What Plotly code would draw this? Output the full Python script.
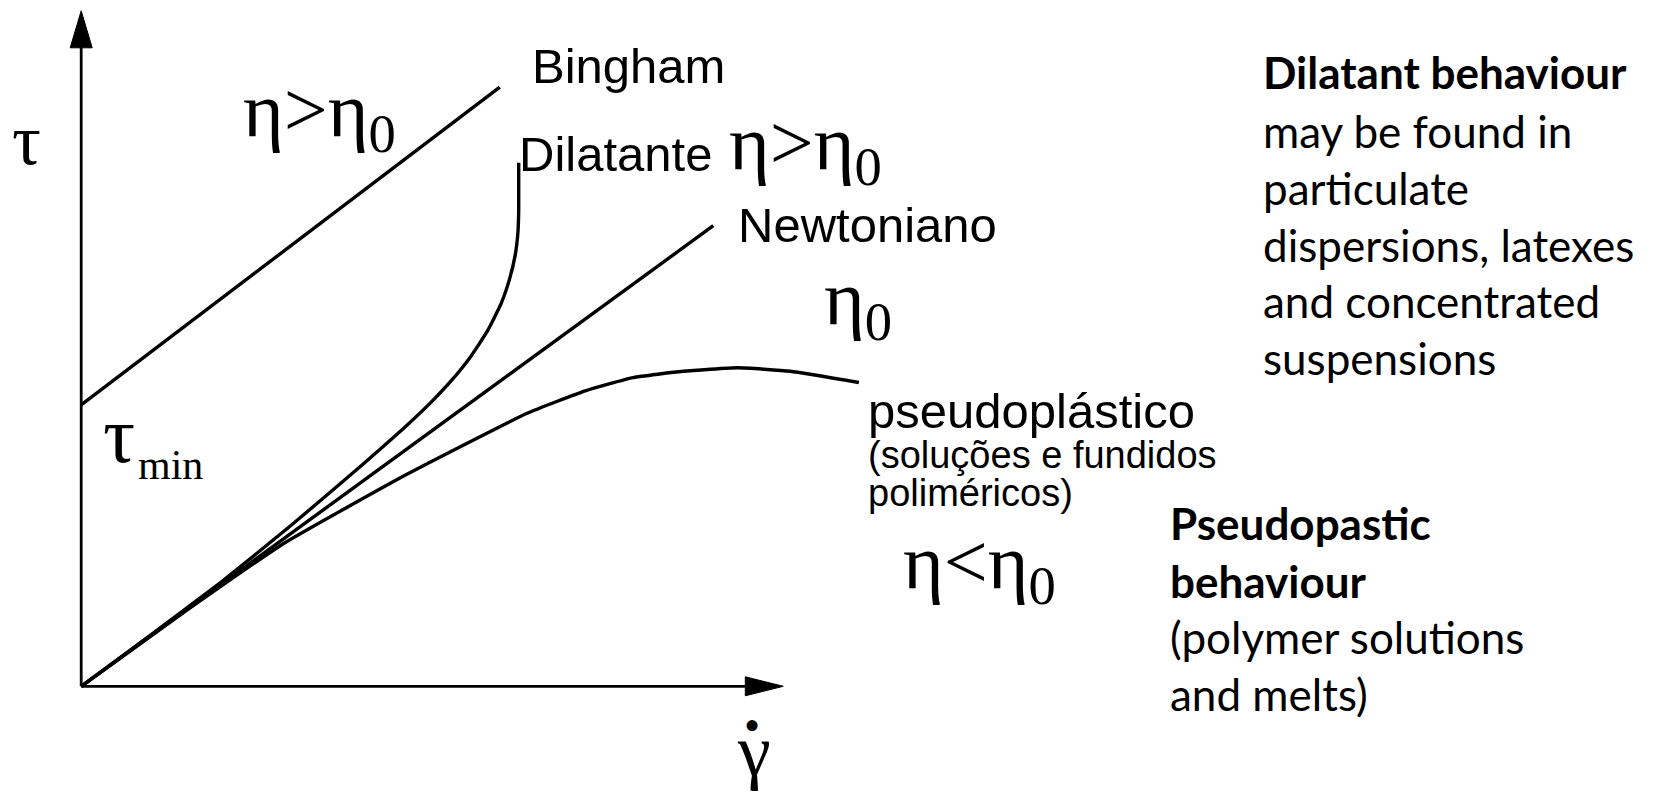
import plotly.graph_objects as go

W, H = 1653, 792

# ---------------- data (arbitrary units: shear rate vs shear stress) ----------------
bingham_rate = [0.0, 5.98]
bingham_stress = [4.02, 8.56]

newton_rate = [0.0, 9.03]
newton_stress = [0.0, 6.58]

dilatant_rate = [0.0, 1.0, 2.0, 3.0, 4.0, 4.6, 5.0, 5.3, 5.55, 5.8, 6.0, 6.12, 6.2, 6.24, 6.25, 6.25]
dilatant_stress = [0.0, 0.74, 1.49, 2.30, 3.15, 3.68, 4.06, 4.38, 4.69, 5.07, 5.47, 5.82, 6.16, 6.50, 6.80, 7.48]

pseudo_rate = [0.0, 1.5, 2.91, 4.6, 6.37, 7.2, 7.88, 8.6, 9.38, 10.13, 11.11]
pseudo_stress = [0.0, 1.08, 2.05, 3.0, 3.90, 4.22, 4.41, 4.50, 4.55, 4.50, 4.34]

axis_rate_max = 10.03
axis_stress_max = 9.65

# ---------------- layout helpers ----------------
PX = 70.0              # pixels per data unit
X0, Y0 = 81.2, 686.3   # pixel position of the origin
xr = [-X0 / PX, (W - X0) / PX]
yr = [-(H - Y0) / PX, Y0 / PX]

LW = 3.4
fig = go.Figure()

def curve(xs, ys, shape="linear", width=LW):
    fig.add_trace(go.Scatter(x=xs, y=ys, mode="lines",
                             line=dict(color="black", width=width, shape=shape, smoothing=0.4),
                             hoverinfo="skip", showlegend=False))

# axes
curve([0, 0], [0, axis_stress_max - 0.2], width=2.8)
curve([0, axis_rate_max - 0.2], [0, 0], width=2.8)

# arrow heads
hl, hw = 37 / PX, 11 / PX
fig.add_shape(type="path", xref="x", yref="y",
              path=f"M {-hw} {axis_stress_max - hl} L {hw} {axis_stress_max - hl} L 0 {axis_stress_max} Z",
              fillcolor="black", line=dict(color="black", width=1))
hl2, hw2 = 38 / PX, 9.5 / PX
fig.add_shape(type="path", xref="x", yref="y",
              path=f"M {axis_rate_max - hl2} {-hw2} L {axis_rate_max - hl2} {hw2} L {axis_rate_max} 0 Z",
              fillcolor="black", line=dict(color="black", width=1))

# curves
curve(bingham_rate, bingham_stress)
curve(newton_rate, newton_stress)
curve(dilatant_rate, dilatant_stress, shape="spline")
curve(pseudo_rate, pseudo_stress, shape="spline")

SANS = "Liberation Sans, Arial, sans-serif"
SERIF = "Liberation Serif, Times New Roman, serif"
CAL = "Lato, Carlito, Calibri, sans-serif"
ASC = {SANS: 0.905, SERIF: 0.891, CAL: 0.987}

def label(text, X, base, size, family, anchor="left"):
    top = base - ASC[family] * size - 2
    fig.add_annotation(text=text, xref="paper", yref="paper",
                       x=(X - 2) / W if anchor == "left" else X / W,
                       y=1 - top / H, xanchor=anchor, yanchor="top",
                       showarrow=False, font=dict(family=family, size=size, color="black"))

# curve labels (sans)
label("Bingham", 532, 83, 49, SANS)
label("Dilatante", 519, 171, 49, SANS)
label("Newtoniano", 738, 242, 49, SANS)
label("pseudoplástico", 868, 428, 49, SANS)
label("(soluções e fundidos", 868, 468, 38, SANS)
label("poliméricos)", 868, 506, 38, SANS)

# greek labels (serif)
label("η>η<sub>0</sub>", 243, 135, 78, SERIF)
label("η>η<sub>0</sub>", 729, 168, 78, SERIF)
label("η<sub>0</sub>", 824, 323, 78, SERIF)
label("η<η<sub>0</sub>", 903, 587, 78, SERIF)
label("τ", 12, 164, 72, SERIF)
label("τ", 103, 462, 80, SERIF)
label("min", 138, 479, 42, SERIF)
label("γ", 754, 775, 74, SERIF, anchor="center")
label("•", 752, 741, 46, SERIF, anchor="center")

# right side notes
CS = 44
label("<b>Dilatant behaviour</b>", 1263, 89, CS, CAL)
for t, b in [("may be found in", 148), ("particulate", 205), ("dispersions, latexes", 262),
             ("and concentrated", 318), ("suspensions", 375)]:
    label(t, 1263, b, CS, CAL)
label("<b>Pseudopastic</b>", 1170, 540, CS, CAL)
label("<b>behaviour</b>", 1170, 598, CS, CAL)
label("(polymer solutions", 1170, 654, CS, CAL)
label("and melts)", 1170, 711, CS, CAL)

fig.update_layout(width=W, height=H, margin=dict(l=0, r=0, t=0, b=0),
                  paper_bgcolor="white", plot_bgcolor="white", showlegend=False,
                  hovermode=False,
                  xaxis=dict(range=xr, visible=False, fixedrange=True),
                  yaxis=dict(range=yr, visible=False, fixedrange=True))

fig.write_html("out.html", config={"displayModeBar": False},
               post_script="document.body.style.margin='0';document.body.style.overflow='hidden';")
